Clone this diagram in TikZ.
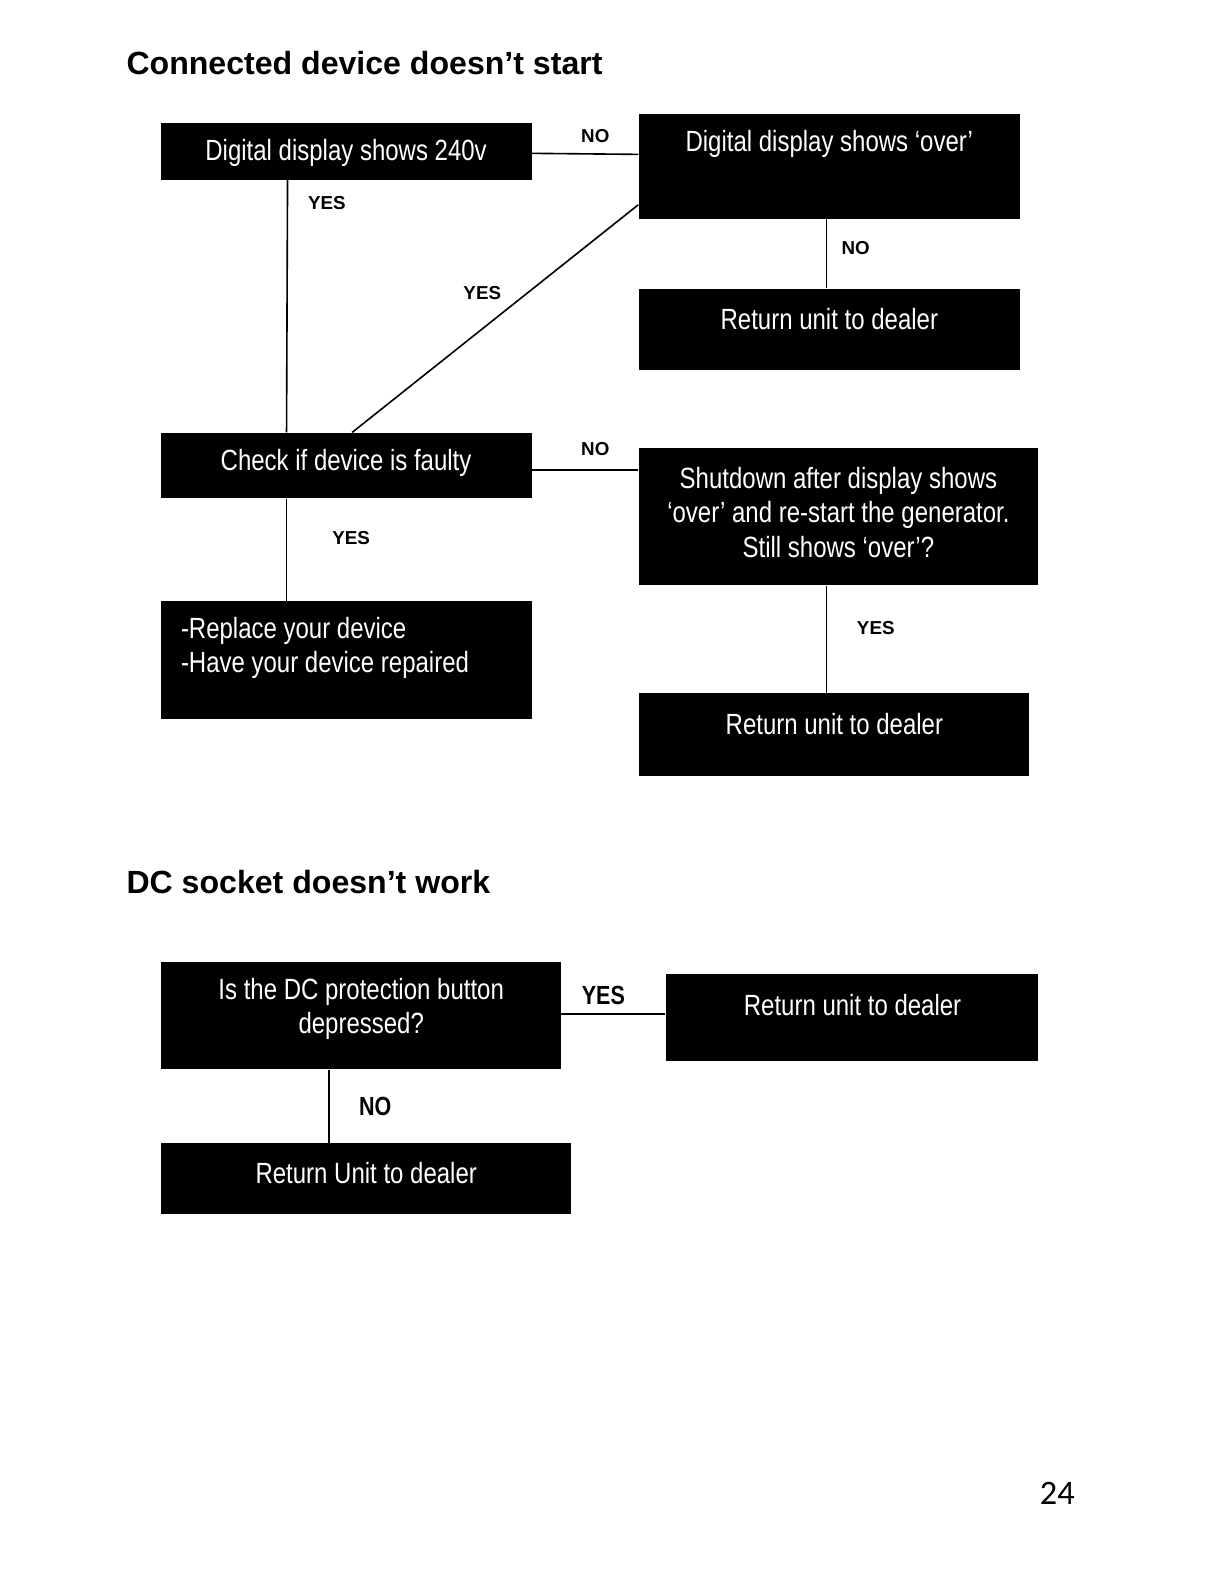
\documentclass[tikz,border=0pt]{standalone}
\usepackage{fontspec}
\setmainfont{Liberation Sans}
\newfontfamily\narrowfont[FakeStretch=0.82]{Liberation Sans}
\newfontfamily\pagefont{Carlito}
\begin{document}
\begin{tikzpicture}[x=0.5pt,y=-0.5pt,
  box/.style 2 args={draw=none,fill=black,inner sep=0pt,minimum width=#1*0.5pt,minimum height=#2*0.5pt},
  boxtext/.style={text=white,inner sep=0pt,font=\narrowfont\fontsize{14.5pt}{17pt}\selectfont},
  smalllab/.style={inner sep=0pt,font=\bfseries\fontsize{9.3pt}{10pt}\selectfont},
  biglab/.style={inner sep=0pt,font=\narrowfont\bfseries\fontsize{13pt}{14pt}\selectfont},
  titletext/.style={inner sep=0pt,anchor=west,font=\bfseries\fontsize{15.9pt}{18pt}\selectfont},
  conn/.style={line width=0.8pt,draw=black}]
\useasboundingbox (0,0) rectangle (1208,1568);
\fill[white] (0,0) rectangle (1208,1568);

% titles
\node[titletext] (t1) at (125,62) {Connected device doesn’t start};
\node[titletext] (t2) at (125,874) {DC socket doesn’t work};

% boxes
\node[box={367}{56}]  (A) at (343.5,150) {};
\node[box={378}{104}] (B) at (822,165) {};
\node[box={378}{81}]  (C) at (822,326.5) {};
\node[box={367}{65}]  (D) at (343.5,461.5) {};
\node[box={396}{136}] (E) at (831,512) {};
\node[box={367}{117}] (F) at (343.5,654.5) {};
\node[box={387}{82}]  (G) at (826.5,728) {};
\node[box={396}{107}] (H) at (358,1006.5) {};
\node[box={369}{87}]  (I) at (844.5,1008.5) {};
\node[box={406}{70}]  (J) at (363,1168) {};

% box texts
\node[boxtext] (At) at (343,152) {Digital display shows 240v};
\node[boxtext] (Bt) at (822,143) {Digital display shows ‘over’};
\node[boxtext] (Ct) at (822,316) {Return unit to dealer};
\node[boxtext] (Dt) at (343,459) {Check if device is faulty};
\node[boxtext,align=center] (Et) at (831,508) {Shutdown after display shows\\‘over’ and re-start the generator.\\Still shows ‘over’?};
\node[boxtext,align=left,anchor=west] (Ft) at (179,642) {-Replace your device\\-Have your device repaired};
\node[boxtext] (Gt) at (827,718) {Return unit to dealer};
\node[boxtext,align=center] (Ht) at (358,1000) {Is the DC protection button\\depressed?};
\node[boxtext] (It) at (845,996) {Return unit to dealer};
\node[boxtext] (Jt) at (363,1163) {Return Unit to dealer};

% connectors
\draw[conn] (A.east |- 0,152) -- (B.west |- 0,153);
\draw[conn] (A.south -| 285,0) -- (D.north -| 284,0);
\draw[conn] (B.west |- 0,203) -- (D.north -| 349,0);
\draw[conn] (B.south -| 819,0) -- (C.north -| 819,0);
\draw[conn] (D.east |- 0,466) -- (E.west |- 0,466);
\draw[conn] (D.south -| 284,0) -- (F.north -| 284,0);
\draw[conn] (E.south -| 819,0) -- (G.north -| 819,0);
\draw[conn] (H.east |- 0,1005) -- (I.west |- 0,1005);
\draw[conn] (H.south -| 326,0) -- (J.north -| 326,0);

% labels
\node[smalllab] (l1) at (590,135) {NO};
\node[smalllab] (l2) at (324,201) {YES};
\node[smalllab] (l3) at (478,290) {YES};
\node[smalllab] (l4) at (848,246) {NO};
\node[smalllab] (l5) at (590,445) {NO};
\node[smalllab] (l6) at (348,533) {YES};
\node[smalllab] (l7) at (868,622) {YES};
\node[biglab] (l8) at (598,987) {YES};
\node[biglab] (l9) at (372,1097) {NO};

% page number
\node[inner sep=0pt,font=\pagefont\fontsize{17pt}{19pt}\selectfont] (pg) at (1048,1480) {24};
\end{tikzpicture}
\end{document}
